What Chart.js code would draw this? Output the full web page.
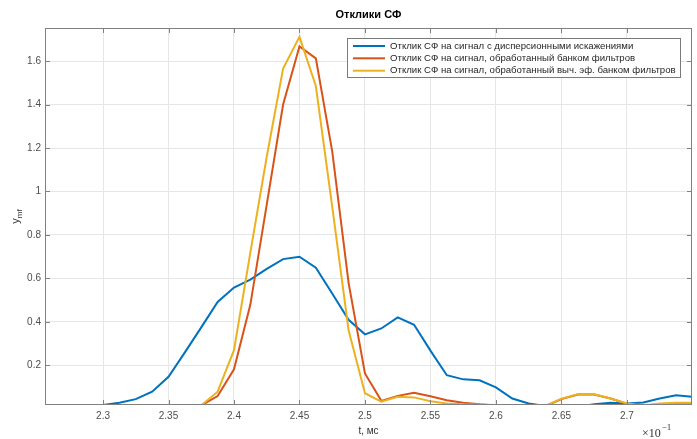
<!DOCTYPE html>
<html>
<head>
<meta charset="utf-8">
<script src="https://cdn.jsdelivr.net/npm/chart.js@4.4.0/dist/chart.umd.min.js"></script>
<style>
  html, body { margin: 0; padding: 0; background: #fff; }
</style>
</head>
<body>
<canvas id="lineChartSF" width="697" height="439"></canvas>
<script>
// time, ms (x 10^-1)
var t = [2.3, 2.3125, 2.325, 2.3375, 2.35, 2.3625, 2.375, 2.3875, 2.4, 2.4125, 2.425, 2.4375,
         2.45, 2.4625, 2.475, 2.4875, 2.5, 2.5125, 2.525, 2.5375, 2.55, 2.5625, 2.575, 2.5875,
         2.6, 2.6125, 2.625, 2.6375, 2.65, 2.6625, 2.675, 2.6875, 2.7, 2.7125, 2.725, 2.7375, 2.75];

// response to signal with dispersion distortion
var yDisp = [0.018, 0.028, 0.045, 0.079, 0.148, 0.26, 0.375, 0.492, 0.558, 0.595, 0.644, 0.689,
             0.700, 0.650, 0.531, 0.41, 0.343, 0.370, 0.421, 0.387, 0.268, 0.155, 0.136, 0.132,
             0.099, 0.048, 0.025, 0.014, 0.006, 0.010, 0.021, 0.028, 0.025, 0.030, 0.048, 0.063, 0.056];

// response after filter bank
var yBank = [null, null, null, null, null, null, 0.016, 0.059, 0.182, 0.48, 0.94, 1.40,
             1.667, 1.612, 1.185, 0.58, 0.163, 0.037, 0.060, 0.074, 0.058, 0.040, 0.028, 0.021,
             0.016, 0.010, 0.006, 0.012, 0.045, 0.066, 0.066, 0.048, 0.024, 0.014, 0.020, 0.022, 0.022];

// response after computationally efficient filter bank
var yFast = [null, null, null, null, null, null, 0.016, 0.079, 0.270, 0.72, 1.16, 1.565,
             1.711, 1.485, 0.93, 0.362, 0.072, 0.033, 0.056, 0.053, 0.035, 0.025, 0.021, 0.019,
             0.018, 0.012, 0.006, 0.014, 0.047, 0.068, 0.067, 0.048, 0.025, 0.016, 0.025, 0.028, 0.028];

var seriesLabels = [
  "Отклик СФ на сигнал с дисперсионными искажениями",
  "Отклик СФ на сигнал, обработанный банком фильтров",
  "Отклик СФ на сигнал, обработанный выч. эф. банком фильтров"
];
var seriesColors = ['#0072BD', '#D95319', '#EDB120'];

var xTicks = [2.3, 2.35, 2.4, 2.45, 2.5, 2.55, 2.6, 2.65, 2.7];
var yTicks = [0.2, 0.4, 0.6, 0.8, 1, 1.2, 1.4, 1.6];
var xLim = [2.2557, 2.7497];
var yLim = [0.018, 1.752];

var FONT = '"Liberation Sans", Arial, Helvetica, sans-serif';

function pts(ys) {
  return t.map(function (x, i) { return { x: x, y: ys[i] }; });
}

// MATLAB-like decorations: box, inner ticks, title, legend, labels
var sfDecor = {
  id: 'sfDecor',
  afterDraw: function (chart) {
    var ctx = chart.ctx, a = chart.chartArea;
    var xs = chart.scales.x, ys = chart.scales.y;
    ctx.save();

    // axes box
    ctx.strokeStyle = '#808080';
    ctx.lineWidth = 1;
    ctx.strokeRect(a.left + 0.5, a.top + 0.5, a.right - a.left - 1, a.bottom - a.top - 1);

    // inward ticks
    ctx.beginPath();
    xTicks.forEach(function (v) {
      var px = Math.round(xs.getPixelForValue(v)) + 0.5;
      ctx.moveTo(px, a.bottom); ctx.lineTo(px, a.bottom - 5);
      ctx.moveTo(px, a.top); ctx.lineTo(px, a.top + 5);
    });
    yTicks.forEach(function (v) {
      var py = Math.round(ys.getPixelForValue(v)) + 0.5;
      ctx.moveTo(a.left, py); ctx.lineTo(a.left + 5, py);
      ctx.moveTo(a.right, py); ctx.lineTo(a.right - 5, py);
    });
    ctx.stroke();

    // title
    ctx.fillStyle = '#000';
    ctx.font = 'bold 11px ' + FONT;
    ctx.textAlign = 'center';
    ctx.textBaseline = 'middle';
    ctx.fillText('Отклики СФ', (a.left + a.right) / 2, 15);

    // x label
    ctx.fillStyle = '#333';
    ctx.font = '10px ' + FONT;
    ctx.fillText('t, мс', (a.left + a.right) / 2, 431);

    // exponent
    ctx.textAlign = 'left';
    ctx.textBaseline = 'alphabetic';
    ctx.font = '12px "Liberation Serif", "Times New Roman", serif';
    ctx.fillText('×10', 642, 437);
    var w10 = ctx.measureText('×10').width;
    ctx.font = '9px "Liberation Serif", "Times New Roman", serif';
    ctx.fillText('−1', 642 + w10 + 1, 430);

    // y label (rotated)
    ctx.save();
    ctx.translate(19, (a.top + a.bottom) / 2);
    ctx.rotate(-Math.PI / 2);
    ctx.font = '11px ' + FONT;
    var wy = ctx.measureText('y').width;
    ctx.font = '8px ' + FONT;
    var wmf = ctx.measureText('mf').width;
    var x0 = -(wy + wmf) / 2;
    ctx.font = '11px ' + FONT;
    ctx.fillText('y', x0, 0);
    ctx.font = '8px ' + FONT;
    ctx.fillText('mf', x0 + wy, 3);
    ctx.restore();

    // legend
    var lx = 347.5, ly = 38.5, lw = 333, lh = 39;
    ctx.fillStyle = '#fff';
    ctx.fillRect(lx, ly, lw, lh);
    ctx.strokeStyle = '#7a7a7a';
    ctx.strokeRect(lx, ly, lw, lh);
    var rows = [46, 58.3, 70.7];
    ctx.font = '10px ' + FONT;
    var widest = 0;
    seriesLabels.forEach(function (lab) { widest = Math.max(widest, ctx.measureText(lab).width); });
    var fs = Math.min(10, 10 * 286 / widest);
    ctx.font = fs.toFixed(2) + 'px ' + FONT;
    ctx.textBaseline = 'middle';
    ctx.textAlign = 'left';
    seriesLabels.forEach(function (lab, i) {
      ctx.strokeStyle = seriesColors[i];
      ctx.lineWidth = 2;
      ctx.beginPath();
      ctx.moveTo(353, rows[i]); ctx.lineTo(385, rows[i]);
      ctx.stroke();
      ctx.fillStyle = '#262626';
      ctx.fillText(lab, 390, rows[i]);
    });

    ctx.restore();
  }
};

var ctxL = document.getElementById('lineChartSF').getContext('2d');
var sfChart = new Chart(ctxL, {
  type: 'line',
  data: {
    datasets: [{
        label: seriesLabels[0],
        data: pts(yDisp),
        borderColor: seriesColors[0],
        borderWidth: 2,
        pointRadius: 0,
        order: 2
      },
      {
        label: seriesLabels[1],
        data: pts(yBank),
        borderColor: seriesColors[1],
        borderWidth: 2,
        pointRadius: 0,
        order: 1
      },
      {
        label: seriesLabels[2],
        data: pts(yFast),
        borderColor: seriesColors[2],
        borderWidth: 2,
        pointRadius: 0,
        order: 0
      }
    ]
  },
  options: {
    responsive: false,
    animation: false,
    events: [],
    layout: { padding: { top: 28, right: 5, left: 0, bottom: 0 } },
    plugins: { legend: { display: false }, title: { display: false }, tooltip: { enabled: false } },
    scales: {
      x: {
        type: 'linear',
        min: xLim[0],
        max: xLim[1],
        afterBuildTicks: function (s) { s.ticks = xTicks.map(function (v) { return { value: v }; }); },
        afterFit: function (s) { s.height = 34; },
        grid: { color: '#e6e6e6', drawTicks: false },
        border: { display: false },
        ticks: {
          padding: 5,
          color: '#4d4d4d',
          font: { family: FONT, size: 10 },
          maxRotation: 0,
          autoSkip: false,
          callback: function (v) { return String(v); }
        }
      },
      y: {
        type: 'linear',
        min: yLim[0],
        max: yLim[1],
        afterBuildTicks: function (s) { s.ticks = yTicks.map(function (v) { return { value: v }; }); },
        afterFit: function (s) { s.width = 45; },
        grid: { color: '#e6e6e6', drawTicks: false },
        border: { display: false },
        ticks: {
          padding: 4,
          color: '#4d4d4d',
          font: { family: FONT, size: 10 },
          autoSkip: false,
          callback: function (v) { return String(v); }
        }
      }
    }
  },
  plugins: [sfDecor]
});
</script>
</body>
</html>
